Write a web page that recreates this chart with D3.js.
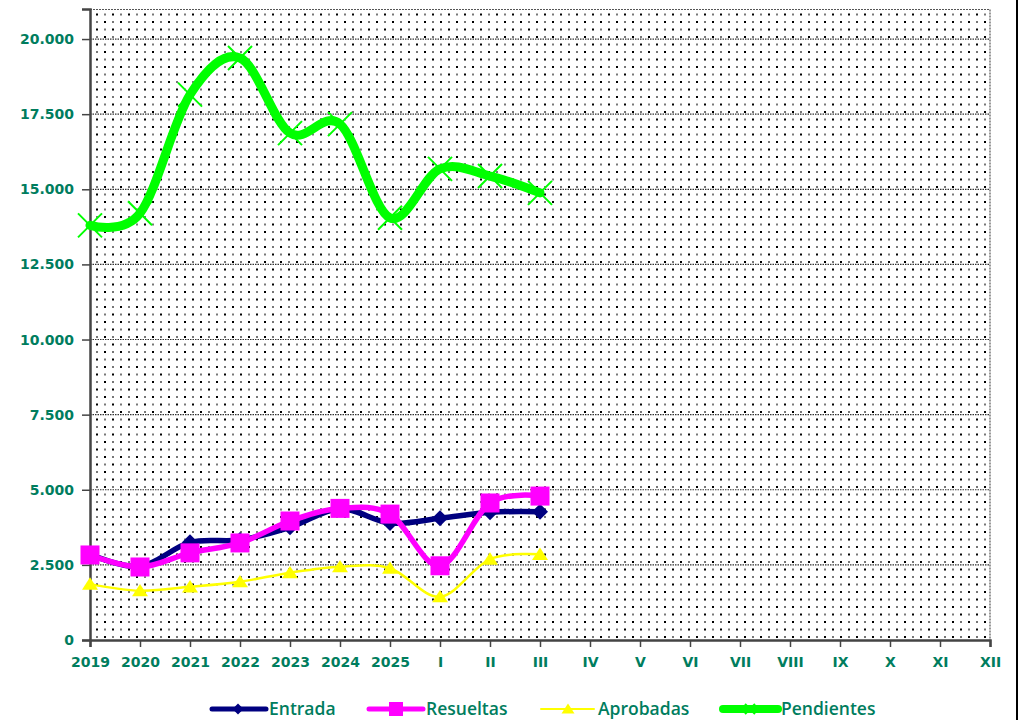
<!DOCTYPE html>
<html>
<head>
<meta charset="utf-8">
<script src="https://cdn.jsdelivr.net/npm/d3@7"></script>
<style>
  html, body { margin: 0; padding: 0; background: #fff; }
  svg { display: block; }
</style>
</head>
<body>
<svg id="chart" width="1020" height="720"></svg>
<script>
// Evolución de asuntos: entrada, resueltas, aprobadas y pendientes

const categories = ['2019', '2020', '2021', '2022', '2023', '2024', '2025',
  'I', 'II', 'III', 'IV', 'V', 'VI', 'VII', 'VIII', 'IX', 'X', 'XI', 'XII'];

const entrada    = [2850, 2450, 3250, 3330, 3750, 4370, 3890, 4050, 4250, 4270];
const resueltas  = [2830, 2430, 2900, 3230, 3960, 4380, 4190, 2470, 4560, 4790];
const aprobadas  = [1860, 1640, 1770, 1940, 2240, 2440, 2390, 1440, 2690, 2850];
const pendientes = [13800, 14200, 18150, 19370, 16870, 17170, 14050, 15680, 15440, 14880];

const yTicks = [0, 2500, 5000, 7500, 10000, 12500, 15000, 17500, 20000];

const textColor = '#007D5E';
const fmt = d => d3.format(',')(d).replace(/,/g, '.');

const svg = d3.select('#chart');
const margin = { top: 9, right: 30, bottom: 80, left: 90 };
const width = 1020 - margin.left - margin.right;
const height = 720 - margin.top - margin.bottom;

// fondo punteado: puntos oscuros escalonados y puntos claros intermedios
const defs = svg.append('defs');
const pat = defs.append('pattern')
  .attr('id', 'dots')
  .attr('patternUnits', 'userSpaceOnUse')
  .attr('x', margin.left + 4)
  .attr('y', margin.top + 3)
  .attr('width', 16)
  .attr('height', 15);
[[0, 0, '#000'], [8, 7.5, '#000'], [8, 0, '#777'], [0, 7.5, '#777']].forEach(([x, y, c]) => {
  pat.append('rect').attr('x', x).attr('y', y).attr('width', 2).attr('height', 2).attr('fill', c);
});

const xScale = d3.scalePoint()
  .domain(categories)
  .range([0, width]);

const yScale = d3.scaleLinear()
  .domain([0, 21000])
  .range([height, 0]);

const g = svg.append('g')
  .attr('transform', `translate(${margin.left},${margin.top})`);

g.append('rect')
  .attr('width', width)
  .attr('height', height)
  .attr('fill', '#fff');
g.append('rect')
  .attr('width', width)
  .attr('height', height)
  .attr('fill', 'url(#dots)');

// líneas de cuadrícula
g.append('g')
  .selectAll('line')
  .data(yTicks.filter(d => d > 0))
  .enter()
  .append('line')
  .attr('x1', 0)
  .attr('x2', width)
  .attr('y1', d => yScale(d))
  .attr('y2', d => yScale(d))
  .attr('stroke', '#333')
  .attr('stroke-width', 1.2)
  .attr('stroke-dasharray', '1.5,1');

// borde superior y derecho
g.append('path')
  .attr('d', `M0,0.5H${width}V${height}`)
  .attr('fill', 'none')
  .attr('stroke', '#555')
  .attr('stroke-width', 1.2)
  .attr('stroke-dasharray', '2,1');

// ejes
const yAxis = g.append('g')
  .call(d3.axisLeft(yScale).tickValues(yTicks).tickSize(8).tickFormat(fmt));
const xAxis = g.append('g')
  .attr('transform', `translate(0,${height})`)
  .call(d3.axisBottom(xScale).tickSize(7).tickPadding(10));

[yAxis, xAxis].forEach(ax => {
  ax.select('.domain').attr('stroke', '#444').attr('stroke-width', 2.5);
  ax.selectAll('.tick line').attr('stroke', '#444').attr('stroke-width', 1.5);
  ax.selectAll('.tick text')
    .attr('fill', textColor)
    .style('font-family', '"DejaVu Sans", Verdana, sans-serif')
    .style('font-weight', 'bold')
    .style('font-size', '14px');
});
yAxis.selectAll('.tick text').attr('x', -16);

// series
const series = [
  { name: 'Entrada', values: entrada, color: '#000080', width: 5.5, marker: 'diamond', size: 16 },
  { name: 'Resueltas', values: resueltas, color: '#FF00FF', width: 5.5, marker: 'square', size: 19 },
  { name: 'Aprobadas', values: aprobadas, color: '#FFFF00', width: 2.5, marker: 'triangle', size: 16 },
  { name: 'Pendientes', values: pendientes, color: '#00FF00', width: 9, marker: 'x', size: 24 }
];

const line = d3.line()
  .x((d, i) => xScale(categories[i]))
  .y(d => yScale(d))
  .curve(d3.curveCatmullRom.alpha(0));

function drawMarker(sel, s, x, y) {
  const r = s.size / 2;
  if (s.marker === 'diamond') {
    sel.append('path')
      .attr('d', `M${x},${y - r}L${x + r},${y}L${x},${y + r}L${x - r},${y}Z`)
      .attr('fill', s.color);
  } else if (s.marker === 'square') {
    sel.append('rect')
      .attr('x', x - r).attr('y', y - r)
      .attr('width', s.size).attr('height', s.size)
      .attr('fill', s.color);
  } else if (s.marker === 'triangle') {
    sel.append('path')
      .attr('d', `M${x},${y - r * 0.85}L${x + r},${y + r * 0.7}L${x - r},${y + r * 0.7}Z`)
      .attr('fill', s.color);
  } else {
    sel.append('path')
      .attr('d', `M${x - r},${y - r}L${x + r},${y + r}M${x - r},${y + r}L${x + r},${y - r}`)
      .attr('stroke', s.color)
      .attr('stroke-width', 2);
  }
}

// dibujar de atrás hacia delante
[series[3], series[2], series[0], series[1]].forEach(s => {
  const sg = g.append('g');
  sg.append('path')
    .datum(s.values)
    .attr('d', line)
    .attr('fill', 'none')
    .attr('stroke', s.color)
    .attr('stroke-width', s.width)
    .attr('stroke-linejoin', 'round')
    .attr('stroke-linecap', 'round');
  s.values.forEach((v, i) => drawMarker(sg, s, xScale(categories[i]), yScale(v)));
});

// leyenda
const legendItems = [
  { s: series[0], x1: 212, x2: 266, mx: 238, tx: 269, lw: 5, ms: 11 },
  { s: series[1], x1: 369, x2: 423, mx: 396, tx: 426, lw: 5, ms: 14 },
  { s: series[2], x1: 541, x2: 594, mx: 568, tx: 598, lw: 2, ms: 13 },
  { s: series[3], x1: 723, x2: 778, mx: 750, tx: 781, lw: 8, ms: 10 }
];
const legY = 709;
const legend = svg.append('g');
legendItems.forEach(it => {
  const small = Object.assign({}, it.s, { size: it.ms });
  legend.append('line')
    .attr('x1', it.x1).attr('x2', it.x2)
    .attr('y1', legY).attr('y2', legY)
    .attr('stroke', it.s.color)
    .attr('stroke-width', it.lw)
    .attr('stroke-linecap', 'round');
  drawMarker(legend, small, it.mx, legY);
  legend.append('text')
    .attr('x', it.tx)
    .attr('y', legY)
    .attr('dy', '0.34em')
    .attr('fill', textColor)
    .style('font-family', '"Open Sans", sans-serif')
    .style('font-weight', '600')
    .style('font-size', '17.5px')
    .text(it.s.name);
});

// borde derecho del gráfico
svg.append('line')
  .attr('x1', 1017).attr('x2', 1017)
  .attr('y1', 0).attr('y2', 720)
  .attr('stroke', '#000')
  .attr('stroke-width', 2);
</script>
</body>
</html>
